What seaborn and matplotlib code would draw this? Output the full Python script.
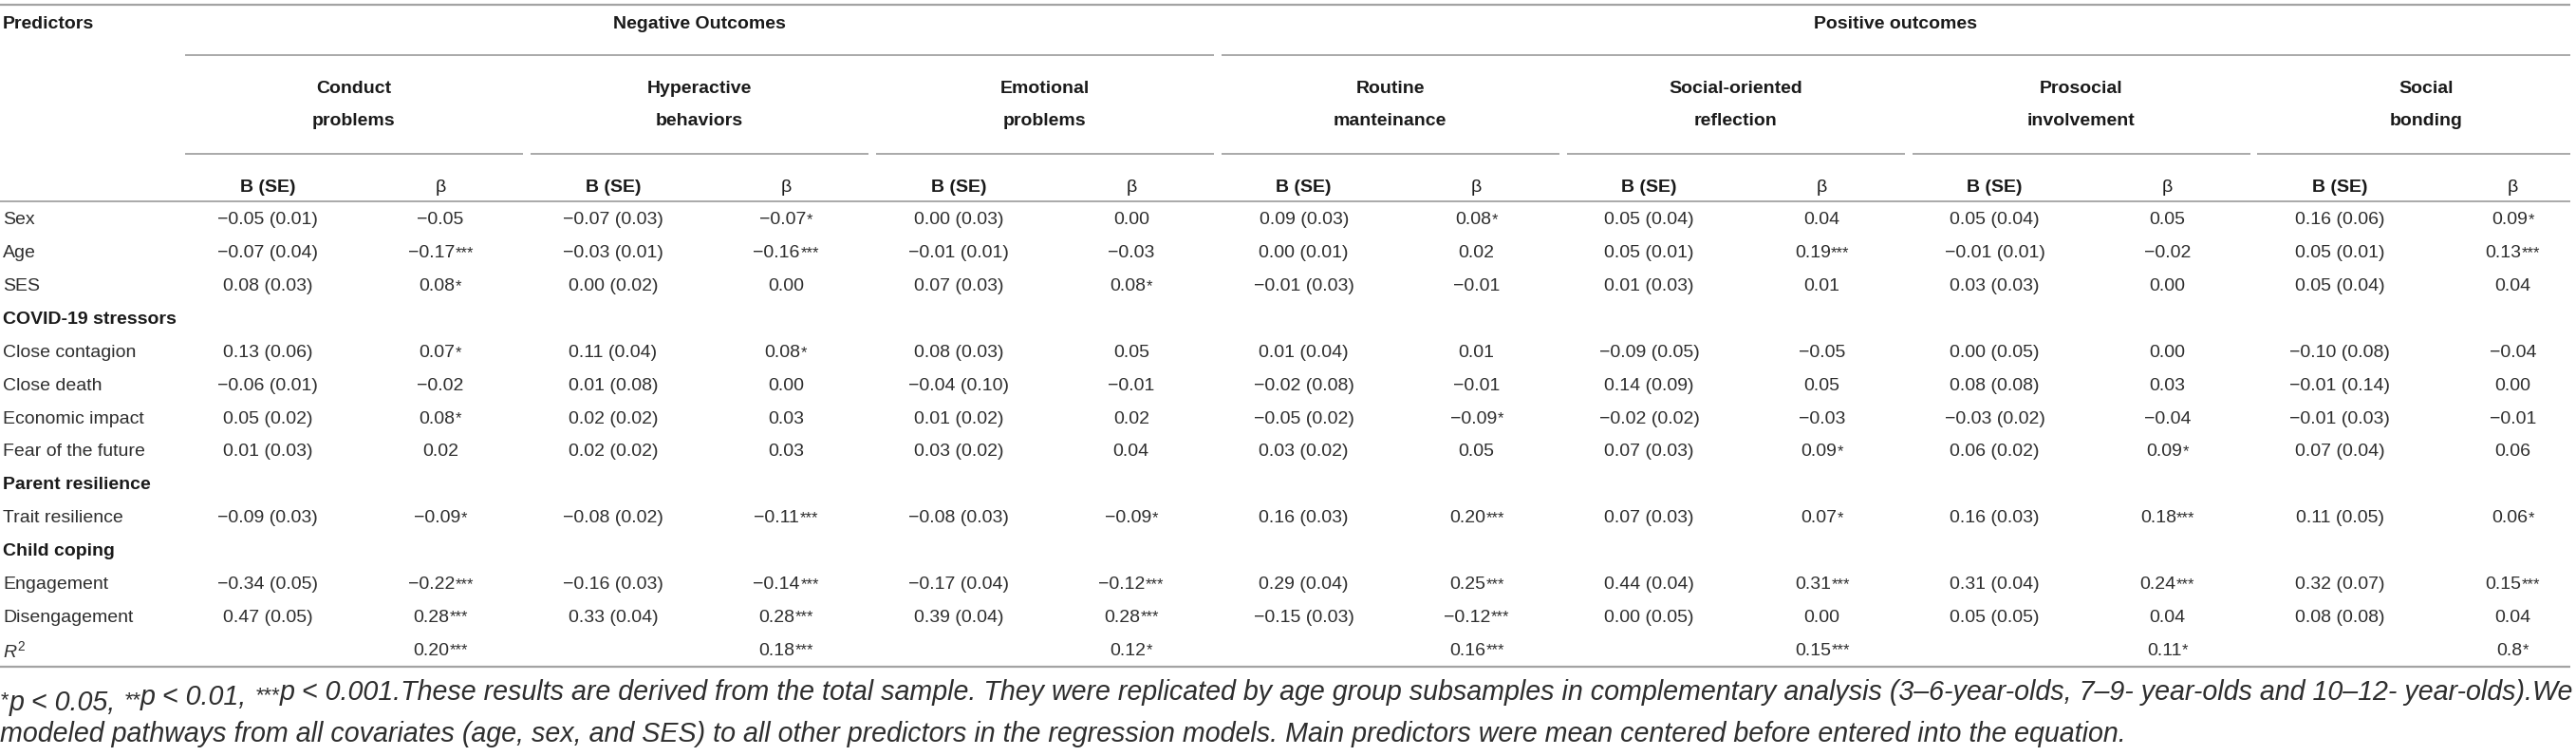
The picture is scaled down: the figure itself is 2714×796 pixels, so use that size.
import numpy as np
import pandas as pd
import matplotlib
matplotlib.use("Agg")
import matplotlib.pyplot as plt
import seaborn as sns

# ---------------- data ----------------
group_names = ["Negative Outcomes", "Positive outcomes"]
outcomes = ["Conduct problems", "Hyperactive behaviors", "Emotional problems",
            "Routine manteinance", "Social-oriented reflection",
            "Prosocial involvement", "Social bonding"]
outcome_group = [0, 0, 0, 1, 1, 1, 1]
col_labels = ["B (SE)", "β"]

row_labels = ["Sex", "Age", "SES", "COVID-19 stressors", "Close contagion",
              "Close death", "Economic impact", "Fear of the future",
              "Parent resilience", "Trait resilience", "Child coping",
              "Engagement", "Disengagement", "R2"]
section_rows = ["COVID-19 stressors", "Parent resilience", "Child coping"]
predictors = ["Sex", "Age", "SES", "Close contagion", "Close death",
              "Economic impact", "Fear of the future", "Trait resilience",
              "Engagement", "Disengagement"]

b_conduct = [-0.05, -0.07, 0.08, 0.13, -0.06, 0.05, 0.01, -0.09, -0.34, 0.47]
se_conduct = [0.01, 0.04, 0.03, 0.06, 0.01, 0.02, 0.03, 0.03, 0.05, 0.05]
beta_conduct = [-0.05, -0.17, 0.08, 0.07, -0.02, 0.08, 0.02, -0.09, -0.22, 0.28]
sig_conduct = ["", "***", "*", "*", "", "*", "", "*", "***", "***"]

b_hyper = [-0.07, -0.03, 0.00, 0.11, 0.01, 0.02, 0.02, -0.08, -0.16, 0.33]
se_hyper = [0.03, 0.01, 0.02, 0.04, 0.08, 0.02, 0.02, 0.02, 0.03, 0.04]
beta_hyper = [-0.07, -0.16, 0.00, 0.08, 0.00, 0.03, 0.03, -0.11, -0.14, 0.28]
sig_hyper = ["*", "***", "", "*", "", "", "", "***", "***", "***"]

b_emotional = [0.00, -0.01, 0.07, 0.08, -0.04, 0.01, 0.03, -0.08, -0.17, 0.39]
se_emotional = [0.03, 0.01, 0.03, 0.03, 0.10, 0.02, 0.02, 0.03, 0.04, 0.04]
beta_emotional = [0.00, -0.03, 0.08, 0.05, -0.01, 0.02, 0.04, -0.09, -0.12, 0.28]
sig_emotional = ["", "", "*", "", "", "", "", "*", "***", "***"]

b_routine = [0.09, 0.00, -0.01, 0.01, -0.02, -0.05, 0.03, 0.16, 0.29, -0.15]
se_routine = [0.03, 0.01, 0.03, 0.04, 0.08, 0.02, 0.02, 0.03, 0.04, 0.03]
beta_routine = [0.08, 0.02, -0.01, 0.01, -0.01, -0.09, 0.05, 0.20, 0.25, -0.12]
sig_routine = ["*", "", "", "", "", "*", "", "***", "***", "***"]

b_social_or = [0.05, 0.05, 0.01, -0.09, 0.14, -0.02, 0.07, 0.07, 0.44, 0.00]
se_social_or = [0.04, 0.01, 0.03, 0.05, 0.09, 0.02, 0.03, 0.03, 0.04, 0.05]
beta_social_or = [0.04, 0.19, 0.01, -0.05, 0.05, -0.03, 0.09, 0.07, 0.31, 0.00]
sig_social_or = ["", "***", "", "", "", "", "*", "*", "***", ""]

b_prosocial = [0.05, -0.01, 0.03, 0.00, 0.08, -0.03, 0.06, 0.16, 0.31, 0.05]
se_prosocial = [0.04, 0.01, 0.03, 0.05, 0.08, 0.02, 0.02, 0.03, 0.04, 0.05]
beta_prosocial = [0.05, -0.02, 0.00, 0.00, 0.03, -0.04, 0.09, 0.18, 0.24, 0.04]
sig_prosocial = ["", "", "", "", "", "", "*", "***", "***", ""]

b_bonding = [0.16, 0.05, 0.05, -0.10, -0.01, -0.01, 0.07, 0.11, 0.32, 0.08]
se_bonding = [0.06, 0.01, 0.04, 0.08, 0.14, 0.03, 0.04, 0.05, 0.07, 0.08]
beta_bonding = [0.09, 0.13, 0.04, -0.04, 0.00, -0.01, 0.06, 0.06, 0.15, 0.04]
sig_bonding = ["*", "***", "", "", "", "", "", "*", "***", ""]

r2_labels = ["0.20", "0.18", "0.12", "0.16", "0.15", "0.11", "0.8"]
r2_sig = ["***", "***", "*", "***", "***", "*", "*"]

footnote_line1 = [("*", True), ("p < 0.05, ", False), ("**", True),
                  ("p < 0.01, ", False), ("***", True),
                  ("p < 0.001.These results are derived from the total sample. "
                   "They were replicated by age group subsamples in complementary "
                   "analysis (3–6-year-olds, 7–9- year-olds and 10–12- year-olds).We",
                   False)]
footnote_line2 = ("modeled pathways from all covariates (age, sex, and SES) to all other "
                  "predictors in the regression models. Main predictors were mean "
                  "centered before entered into the equation.")

# assemble long table
B = [b_conduct, b_hyper, b_emotional, b_routine, b_social_or, b_prosocial, b_bonding]
SE = [se_conduct, se_hyper, se_emotional, se_routine, se_social_or, se_prosocial, se_bonding]
BETA = [beta_conduct, beta_hyper, beta_emotional, beta_routine, beta_social_or,
        beta_prosocial, beta_bonding]
SIG = [sig_conduct, sig_hyper, sig_emotional, sig_routine, sig_social_or,
       sig_prosocial, sig_bonding]
records = []
for oi, o in enumerate(outcomes):
    for pi, p in enumerate(predictors):
        records.append(dict(outcome=o, oi=oi, predictor=p, b=B[oi][pi],
                            se=SE[oi][pi], beta=BETA[oi][pi], sig=SIG[oi][pi]))
df = pd.DataFrame(records)

# ---------------- style ----------------
sns.set_theme(style="white")
FONT = ["Liberation Sans", "DejaVu Sans"]
plt.rcParams["font.family"] = FONT
plt.rcParams["mathtext.fontset"] = "custom"
plt.rcParams["mathtext.rm"] = "Liberation Sans"
plt.rcParams["mathtext.it"] = "Liberation Sans:italic"
plt.rcParams["mathtext.bf"] = "Liberation Sans:bold"

W, H = 2714, 796
fig = plt.figure(figsize=(W / 100, H / 100), dpi=100)
ax = fig.add_axes([0, 0, 1, 1])
ax.set_xlim(0, W)
ax.set_ylim(H, 0)
ax.axis("off")

TXT = "#2e2e2e"
HDR = "#1a1a1a"
LINE = "#a3a3a3"
FS = 14
FS_SUP = 12

def fmt(v):
    return f"{v:.2f}".replace("-", "\u2212")

# layout
grp_x0 = 195
grp_step = 363.9
grp_w = 356
last_end = 2708
b_off, beta_off = 87, 269
y_first, y_step = 232, 34.85
row_y = {r: y_first + i * y_step for i, r in enumerate(row_labels)}

y_top_rule, y_group, y_group_line = 5, 25, 58
y_sub1, y_sub2, y_subline = 93, 128, 162
y_colhdr, y_hdr_rule = 197, 212
y_bottom_rule = 702
y_foot1, y_foot2 = 740, 773

ax.hlines([y_top_rule], 0, last_end, color=LINE, lw=1.6)
ax.hlines([y_hdr_rule], 0, last_end, color=LINE, lw=1.3)
ax.hlines([y_bottom_rule], 0, last_end, color=LINE, lw=1.6)

ax.text(3, y_group, "Predictors", ha="left", va="center", fontsize=FS,
        fontweight="bold", color=HDR)

starts = [grp_x0 + i * grp_step for i in range(len(outcomes))]
ends = [s + grp_w for s in starts]
ends[-1] = last_end

for g, name in enumerate(group_names):
    idx = [i for i, og in enumerate(outcome_group) if og == g]
    gx0, gx1 = starts[idx[0]], ends[idx[-1]]
    ax.hlines([y_group_line], gx0, gx1, color=LINE, lw=1.3)
    ax.text((gx0 + gx1) / 2, y_group, name, ha="center", va="center",
            fontsize=FS, fontweight="bold", color=HDR)

for oi, o in enumerate(outcomes):
    s, e = starts[oi], ends[oi]
    first, second = o.split(" ", 1)
    cx = s + 178
    ax.text(cx, y_sub1, first, ha="center", va="center", fontsize=FS,
            fontweight="bold", color=HDR)
    ax.text(cx, y_sub2, second, ha="center", va="center", fontsize=FS,
            fontweight="bold", color=HDR)
    ax.hlines([y_subline], s, e, color=LINE, lw=1.3)
    ax.text(s + b_off, y_colhdr, col_labels[0], ha="center", va="center",
            fontsize=FS, fontweight="bold", color=HDR)
    ax.text(s + beta_off, y_colhdr, col_labels[1], ha="center", va="center",
            fontsize=FS, color=HDR)

for r in row_labels:
    if r == "R2":
        ax.text(3, row_y[r], r"$\mathit{R}^{2}$", ha="left", va="center",
                fontsize=FS, color=TXT)
    elif r in section_rows:
        ax.text(3, row_y[r], r, ha="left", va="center", fontsize=FS,
                fontweight="bold", color=HDR)
    else:
        ax.text(3, row_y[r], r, ha="left", va="center", fontsize=FS, color=TXT)

star_pairs = []

def starred(x, y, num, stars):
    t = ax.text(x, y, num, ha="center", va="center", fontsize=FS, color=TXT)
    if stars:
        s = ax.annotate(stars, xy=(1, 1), xycoords=t, xytext=(0.3, -0.6),
                        textcoords="offset points", ha="left", va="top",
                        fontsize=FS_SUP, color=TXT)
        star_pairs.append((t, s, x))

for _, row in df.iterrows():
    s = starts[int(row.oi)]
    y = row_y[row.predictor]
    ax.text(s + b_off, y, f"{fmt(row.b)} ({row.se:.2f})", ha="center",
            va="center", fontsize=FS, color=TXT)
    starred(s + beta_off, y, fmt(row.beta), row.sig)

for oi in range(len(outcomes)):
    starred(starts[oi] + beta_off, row_y["R2"], r2_labels[oi], r2_sig[oi])

# footnote: first normal piece is the anchor, leading star hangs to its left
FN, FN_SUP = 15, 11.5
lead_star = footnote_line1[0][0]
anchor = ax.text(7, y_foot1, footnote_line1[1][0], ha="left", va="center",
                 fontsize=FN, style="italic", color=TXT)
lead = ax.annotate(lead_star, xy=(0, 1), xycoords=anchor, xytext=(-0.5, -1),
                   textcoords="offset points", ha="right", va="top",
                   fontsize=FN_SUP, style="italic", color=TXT)
foot_pieces = [(lead, True), (anchor, False)]
prev = anchor
for txt, sup in footnote_line1[2:]:
    t = ax.annotate(txt, xy=(1, 1 if sup else 0), xycoords=prev,
                    xytext=(0.5 if sup else 0, -1 if sup else 0),
                    textcoords="offset points",
                    ha="left", va="top" if sup else "bottom",
                    fontsize=FN_SUP if sup else FN, style="italic", color=TXT)
    foot_pieces.append((t, sup))
    prev = t
f2 = ax.text(0, y_foot2, footnote_line2, ha="left", va="center", fontsize=FN,
             style="italic", color=TXT)

# fit footnote line 1 to table width, center starred cells
fig.canvas.draw()
r = fig.canvas.get_renderer()
for _ in range(4):
    lw_ = lead.get_window_extent(r).width
    anchor.set_x(lw_ + 1)
    fig.canvas.draw()
    x_right = foot_pieces[-1][0].get_window_extent(r).x1
    scale = (W - 6) / x_right
    for t, sup in foot_pieces:
        t.set_fontsize(t.get_fontsize() * scale)
    f2.set_fontsize(f2.get_fontsize() * scale)
    fig.canvas.draw()

for t, s, x in star_pairs:
    w = s.get_window_extent(r).width
    t.set_x(x - w / 2)

fig.savefig("out.png", dpi=100, facecolor="white")
